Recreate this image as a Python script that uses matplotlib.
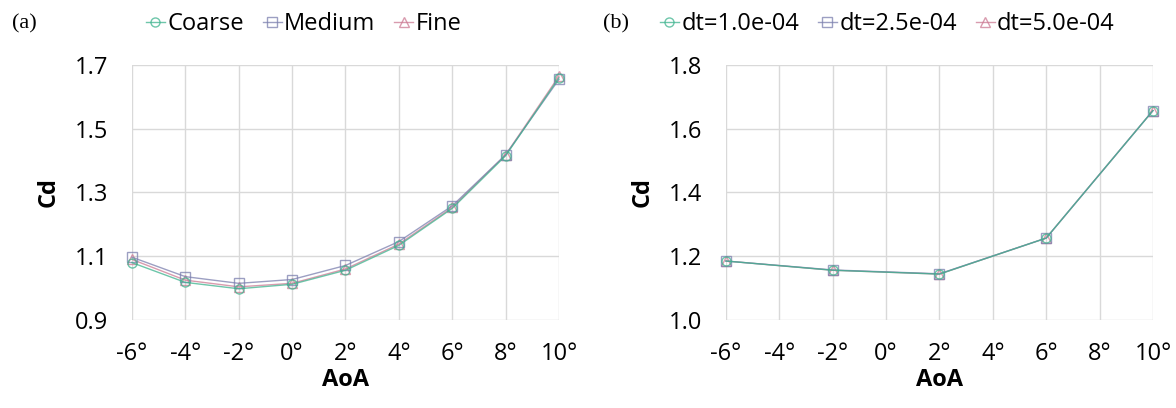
import matplotlib
matplotlib.use('Agg')
import matplotlib.pyplot as plt
import numpy as np

# panel (a): grid study
aoa_a = [-6, -4, -2, 0, 2, 4, 6, 8, 10]
cd_coarse = [1.080, 1.018, 0.998, 1.012, 1.056, 1.134, 1.250, 1.415, 1.660]
cd_medium = [1.097, 1.036, 1.015, 1.027, 1.071, 1.146, 1.258, 1.418, 1.655]
cd_fine = [1.090, 1.025, 1.004, 1.015, 1.060, 1.138, 1.253, 1.418, 1.665]

# panel (b): time step study
aoa_b = [-6, -2, 2, 6, 10]
cd_dt1 = [1.185, 1.156, 1.144, 1.257, 1.657]
cd_dt2 = [1.185, 1.157, 1.145, 1.257, 1.657]
cd_dt3 = [1.185, 1.156, 1.144, 1.257, 1.657]

x_ticks = [-6, -4, -2, 0, 2, 4, 6, 8, 10]

c_green = '#3db38e'
c_blue = '#7b7fae'
c_red = '#cc7a93'
grid_c = '#d9d9d9'
font = 'Open Sans'
fs = 17

fig = plt.figure(figsize=(11.76, 4.08), dpi=100)
ax_a = fig.add_axes([0.1122, 0.2157, 0.3631, 0.625])
ax_b = fig.add_axes([0.6173, 0.2157, 0.3631, 0.625])


def style_axis(ax, yticks):
    ax.set_xlim(-6, 10)
    ax.set_ylim(yticks[0], yticks[-1])
    ax.set_xticks(x_ticks)
    ax.set_xticklabels(['%d°' % v for v in x_ticks], fontsize=fs, family=font)
    ax.set_yticks(yticks)
    ax.set_yticklabels(['%.1f' % v for v in yticks], fontsize=fs, family=font)
    ax.grid(True, color=grid_c, lw=1.0)
    ax.set_axisbelow(True)
    for s in ax.spines.values():
        s.set_visible(False)
    ax.tick_params(axis='y', length=0, pad=17)
    ax.tick_params(axis='x', length=0, pad=16)
    ax.set_xlabel('AoA', fontsize=fs, fontweight='bold', family=font, labelpad=1)
    ax.set_ylabel('Cd', fontsize=fs, fontweight='bold', family=font, labelpad=10)


def draw(ax, x, series):
    # draw in reverse so the first series ends on top
    for y, c, m, lab in series[::-1]:
        ax.plot(x, y, color=c, lw=1.0, marker=m, ms=6.5, mfc='none', mew=1.0,
                alpha=0.75, label=lab, clip_on=False)


series_a = [(cd_coarse, c_green, 'o', 'Coarse'),
            (cd_medium, c_blue, 's', 'Medium'),
            (cd_fine, c_red, '^', 'Fine')]
draw(ax_a, aoa_a, series_a)
style_axis(ax_a, [0.9, 1.1, 1.3, 1.5, 1.7])

series_b = [(cd_dt1, c_green, 'o', 'dt=1.0e-04'),
            (cd_dt2, c_blue, 's', 'dt=2.5e-04'),
            (cd_dt3, c_red, '^', 'dt=5.0e-04')]
draw(ax_b, aoa_b, series_b)
style_axis(ax_b, [1.0, 1.2, 1.4, 1.6, 1.8])

for ax, x0 in ((ax_a, 146), (ax_b, 660)):
    h, l = ax.get_legend_handles_labels()
    fig.legend(h[::-1], l[::-1], loc='center left',
               bbox_to_anchor=(x0 / 1176, 1 - 24 / 408), ncol=3, frameon=False,
               prop={'family': font, 'size': fs}, handlelength=0.8,
               handletextpad=0.1, columnspacing=0.8, borderaxespad=0, borderpad=0)

fig.text(12 / 1176, 1 - 24 / 408, '(a)', fontsize=16, family='Liberation Serif', va='center')
fig.text(603 / 1176, 1 - 24 / 408, '(b)', fontsize=16, family='Liberation Serif', va='center')

fig.savefig('out.png', dpi=100)
